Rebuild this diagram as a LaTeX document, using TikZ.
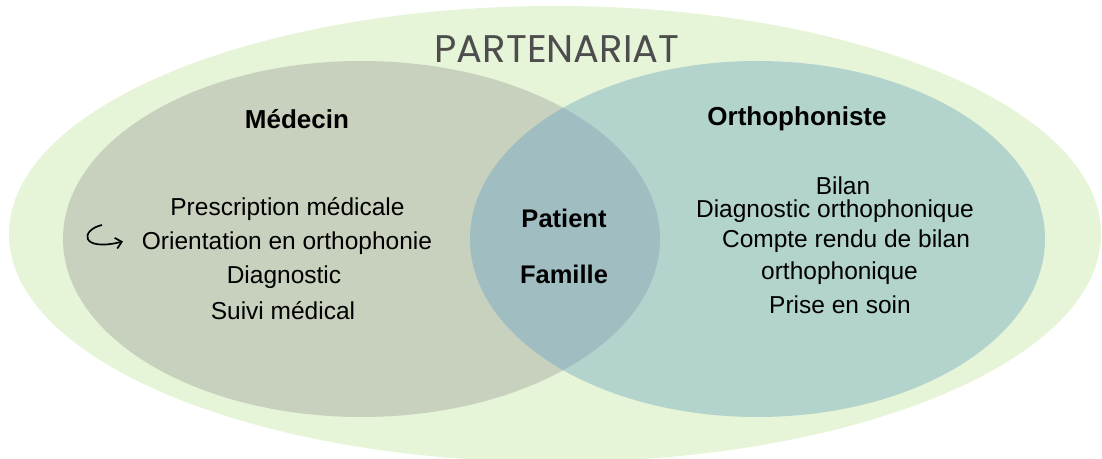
\documentclass[tikz,border=0pt]{standalone}
\usepackage{fontspec}
\setmainfont{Liberation Sans}
\newfontfamily\titlefont{Poppins}
\usetikzlibrary{arrows.meta}

\definecolor{outergreen}{RGB}{230,244,215}
\definecolor{medgrey}{RGB}{200,208,190}
\definecolor{orthoteal}{RGB}{179,211,205}
\definecolor{bothblue}{RGB}{160,190,194}
\definecolor{titlegrey}{RGB}{77,77,77}

\tikzset{
  bodytext/.style={font=\fontsize{24.5bp}{29bp}\selectfont, inner sep=0pt},
  headtext/.style={font=\fontsize{26bp}{30bp}\selectfont\bfseries, inner sep=0pt}
}

\begin{document}
\begin{tikzpicture}[x=1bp, y=-1bp]

\useasboundingbox (0,0) rectangle (1102,459);

% Define centres of the ellipses
\coordinate (O) at (555, 234);
\coordinate (M) at (361.5, 239);
\coordinate (R) at (757.5, 239);

% Draw the three ellipses
\fill[outergreen] (O) ellipse [x radius=546, y radius=228];
\fill[medgrey] (M) ellipse [x radius=298.5, y radius=178];
\fill[orthoteal] (R) ellipse [x radius=287.5, y radius=178];

% Overlap of the two
\begin{scope}
  \clip (M) ellipse [x radius=298.5, y radius=178];
  \fill[bothblue] (R) ellipse [x radius=287.5, y radius=178];
\end{scope}

% Title
\node[font=\titlefont\fontsize{38.5bp}{42bp}\selectfont, text=titlegrey, inner sep=0pt] (titre) at (557, 49) {PARTENARIAT};

% Labels for the two sides
\node[headtext] (medecin) at (297, 119) {Médecin};
\node[headtext] (ortho) at (797, 119) {Orthophoniste};

% Left side
\node[bodytext] (presc) at (287.5, 209) {Prescription médicale};
\node[bodytext] (orient) at (287, 243) {Orientation en orthophonie};
\node[bodytext] (diag) at (284, 277) {Diagnostic};
\node[bodytext] (suivi) at (283, 311) {Suivi médical};

% Middle
\node[headtext, font=\fontsize{25.5bp}{30bp}\selectfont\bfseries] (patient) at (564, 218) {Patient};
\node[headtext, font=\fontsize{25.5bp}{30bp}\selectfont\bfseries] (famille) at (564, 274) {Famille};

% Right side
\node[bodytext] (bilan) at (843, 186) {Bilan};
\node[bodytext] (diagortho) at (835, 211) {Diagnostic orthophonique};
\node[bodytext] (compte) at (846, 241) {Compte rendu de bilan};
\node[bodytext] (orthoph) at (839.5, 273) {orthophonique};
\node[bodytext] (prise) at (840, 305) {Prise en soin};

% Hook arrow
\coordinate (hookA) at (102, 225);
\coordinate (hookB) at (123, 241.5);
\draw[line width=1.7pt, -{Straight Barb[length=6bp, width=11bp]}] (hookA) .. controls (80, 230) and (80, 252) .. (hookB);

\end{tikzpicture}
\end{document}
